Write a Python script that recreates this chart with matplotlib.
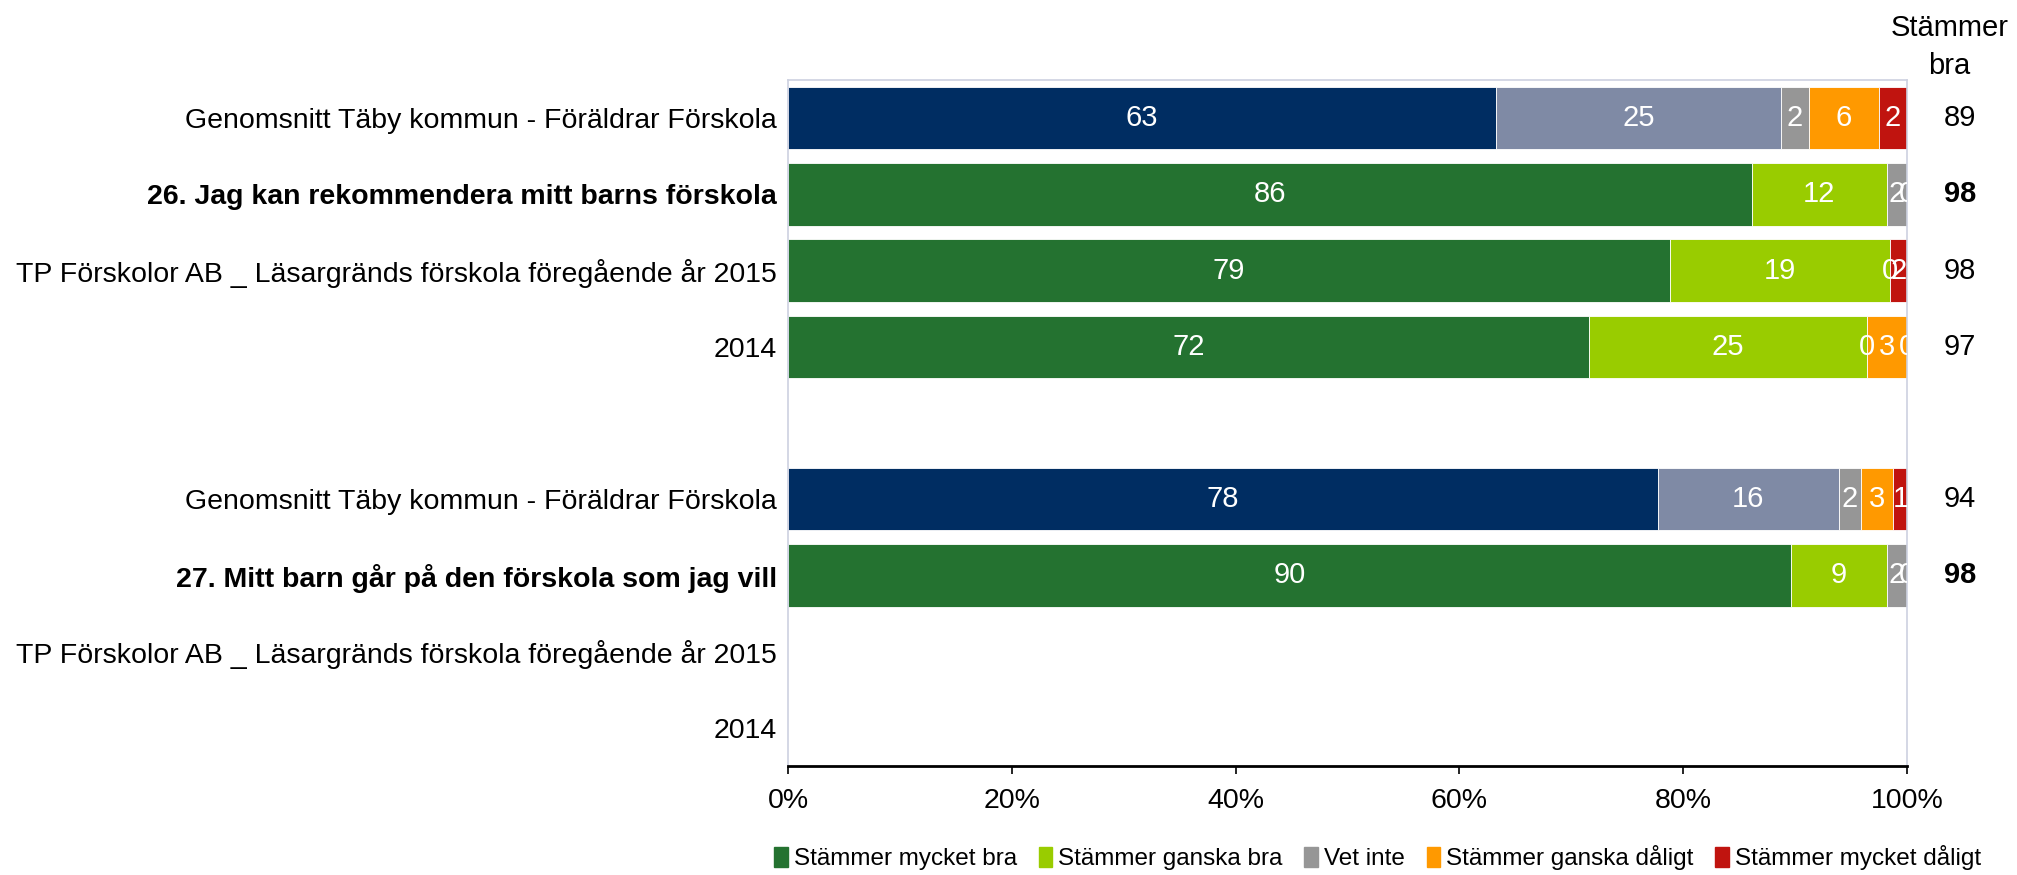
import numpy as np
import matplotlib.pyplot as plt

plt.rcParams['font.family'] = ['Liberation Sans', 'DejaVu Sans']

# ----------------------------
# Data
# ----------------------------
row_labels = [
    "Genomsnitt Täby kommun - Föräldrar Förskola",
    "26. Jag kan rekommendera mitt barns förskola",
    "TP Förskolor AB _ Läsargränds förskola föregående år 2015",
    "2014",
    "",
    "Genomsnitt Täby kommun - Föräldrar Förskola",
    "27. Mitt barn går på den förskola som jag vill",
    "TP Förskolor AB _ Läsargränds förskola föregående år 2015",
    "2014",
]
bold_rows = [1, 6]
avg_rows = [0, 5]

# percent shares per row (None = no bar)
mycket_bra = [63.3, 86.1, 78.8, 71.6, None, 77.7, 89.6, None, None]
ganska_bra = [25.4, 12.1, 19.7, 24.8, None, 16.2, 8.6, None, None]
vet_inte = [2.5, 1.8, 0.0, 0.0, None, 2.0, 1.8, None, None]
ganska_daligt = [6.3, 0.0, 0.0, 3.6, None, 2.8, 0.0, None, None]
mycket_daligt = [2.5, 0.0, 1.5, 0.0, None, 1.4, 0.0, None, None]

seg_labels = [
    ["63", "25", "2", "6", "2"],
    ["86", "12", "2", "0", ""],
    ["79", "19", "0", "", "2"],
    ["72", "25", "0", "3", "0"],
    None,
    ["78", "16", "2", "3", "1"],
    ["90", "9", "2", "0", ""],
    None,
    None,
]

stammer_bra = ["89", "98", "98", "97", "", "94", "98", "", ""]

legend_names = ["Stämmer mycket bra", "Stämmer ganska bra", "Vet inte",
                "Stämmer ganska dåligt", "Stämmer mycket dåligt"]

GREEN = "#247230"
LIME = "#99CC00"
GRAY = "#969696"
ORANGE = "#FF9900"
RED = "#C0140F"
NAVY = "#002D62"
SLATE = "#7F8AA5"


def main():
    fig = plt.figure(figsize=(20.17, 8.75), dpi=100)
    ax = fig.add_axes([0.3907, 0.1246, 0.5548, 0.7840])

    series = [mycket_bra, ganska_bra, vet_inte, ganska_daligt, mycket_daligt]
    colors = [GREEN, LIME, GRAY, ORANGE, RED]
    n = len(row_labels)
    y = np.arange(n)

    for i in range(n):
        if mycket_bra[i] is None:
            continue
        row_colors = list(colors)
        if i in avg_rows:
            row_colors[0] = NAVY
            row_colors[1] = SLATE
        left = 0.0
        for k, s in enumerate(series):
            w = s[i]
            if w > 0:
                ax.barh(y[i], w, left=left, height=0.82, color=row_colors[k],
                        edgecolor="white", linewidth=0.6)
            lab = seg_labels[i][k]
            if lab:
                ax.text(left + w / 2, y[i], lab, ha="center", va="center",
                        color="white", fontsize=21, clip_on=True)
            left += w

    # right-hand column "Stämmer bra"
    for i in range(n):
        if stammer_bra[i]:
            ax.text(1.047, y[i], stammer_bra[i], transform=ax.get_yaxis_transform(),
                    ha="center", va="center", fontsize=21,
                    fontweight="bold" if i in bold_rows else "normal")
    fig.text(0.9665, 0.946, "Stämmer\nbra", ha="center", va="center",
             fontsize=21, linespacing=1.45)

    ax.set_xlim(0, 100)
    ax.set_ylim(n - 0.5, -0.5)
    ax.set_yticks(y)
    ax.set_yticklabels(row_labels, fontsize=20.5)
    for i, t in enumerate(ax.get_yticklabels()):
        if i in bold_rows:
            t.set_fontweight("bold")
    ax.tick_params(axis="y", length=0, pad=8)

    ax.set_xticks(np.arange(0, 101, 20))
    ax.set_xticklabels([f"{v}%" for v in range(0, 101, 20)], fontsize=20.5)
    ax.tick_params(axis="x", length=6, width=1.2, direction="out", pad=10)

    for side in ["left", "top", "right"]:
        ax.spines[side].set_color("#CDD1E0")
        ax.spines[side].set_linewidth(1.2)
    ax.spines["bottom"].set_color("black")
    ax.spines["bottom"].set_linewidth(2)

    handles = [plt.Rectangle((0, 0), 1, 1, color=c) for c in colors]
    fig.legend(handles, legend_names, loc="center", bbox_to_anchor=(0.683, 0.02),
               ncol=5, frameon=False, fontsize=17.5, handlelength=0.55,
               handleheight=0.9, handletextpad=0.25, columnspacing=0.9)

    fig.savefig("out.png", dpi=100)


if __name__ == "__main__":
    main()
